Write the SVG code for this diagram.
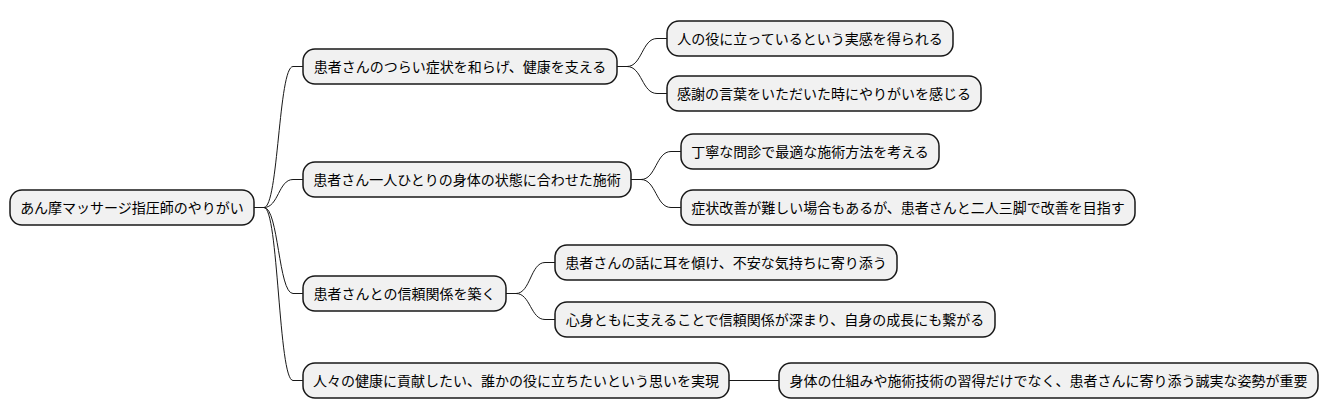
<svg xmlns="http://www.w3.org/2000/svg" width="1328" height="415" viewBox="0 0 1328 415">
<style>
.n{fill:#F1F1F1;stroke:#181818;stroke-width:1.5}
.t{font-family:"Noto Sans CJK JP","Noto Sans CJK SC",sans-serif;font-size:14px;fill:#000;text-anchor:middle}
.c{fill:none;stroke:#181818;stroke-width:1}
</style>
<rect width="1328" height="415" fill="#FFFFFF"/>
<g id="connectors">
<path class="c" d="M254,207.5 L264,207.5 C278.5,207.5 278.5,66.5 293,66.5 L303,66.5"/>
<path class="c" d="M254,207.5 L264,207.5 C278.5,207.5 278.5,179.5 293,179.5 L303,179.5"/>
<path class="c" d="M254,207.5 L264,207.5 C278.5,207.5 278.5,293.5 293,293.5 L303,293.5"/>
<path class="c" d="M254,207.5 L264,207.5 C278.5,207.5 278.5,380.5 293,380.5 L303,380.5"/>
<path class="c" d="M617,66.5 L627,66.5 C642,66.5 642,38.5 657,38.5 L667,38.5"/>
<path class="c" d="M617,66.5 L627,66.5 C642,66.5 642,93.5 657,93.5 L667,93.5"/>
<path class="c" d="M631,179.5 L641,179.5 C656,179.5 656,151.5 671,151.5 L681,151.5"/>
<path class="c" d="M631,179.5 L641,179.5 C656,179.5 656,207.5 671,207.5 L681,207.5"/>
<path class="c" d="M506,293.5 L516,293.5 C530.5,293.5 530.5,262.5 545,262.5 L555,262.5"/>
<path class="c" d="M506,293.5 L516,293.5 C530.5,293.5 530.5,319.5 545,319.5 L555,319.5"/>
<path class="c" d="M729,380.5 L779,380.5"/>
</g>
<g id="root"><rect class="n" x="10" y="190" width="244" height="35" rx="12"/><text class="t" x="132" y="212.5">あん摩マッサージ指圧師のやりがい</text></g>
<g id="n1"><rect class="n" x="303" y="49" width="314" height="35" rx="12"/><text class="t" x="460" y="71.5">患者さんのつらい症状を和らげ、健康を支える</text></g>
<g id="n1a"><rect class="n" x="667" y="21" width="286" height="35" rx="12"/><text class="t" x="810" y="43.5">人の役に立っているという実感を得られる</text></g>
<g id="n1b"><rect class="n" x="667" y="76" width="314" height="35" rx="12"/><text class="t" x="824" y="98.5">感謝の言葉をいただいた時にやりがいを感じる</text></g>
<g id="n2"><rect class="n" x="303" y="162" width="328" height="35" rx="12"/><text class="t" x="467" y="184.5">患者さん一人ひとりの身体の状態に合わせた施術</text></g>
<g id="n2a"><rect class="n" x="681" y="134" width="258" height="35" rx="12"/><text class="t" x="810" y="156.5">丁寧な問診で最適な施術方法を考える</text></g>
<g id="n2b"><rect class="n" x="681" y="190" width="454" height="35" rx="12"/><text class="t" x="908" y="212.5">症状改善が難しい場合もあるが、患者さんと二人三脚で改善を目指す</text></g>
<g id="n3"><rect class="n" x="303" y="276" width="203" height="35" rx="12"/><text class="t" x="404.5" y="298.5">患者さんとの信頼関係を築く</text></g>
<g id="n3a"><rect class="n" x="555" y="245" width="342" height="35" rx="12"/><text class="t" x="726" y="267.5">患者さんの話に耳を傾け、不安な気持ちに寄り添う</text></g>
<g id="n3b"><rect class="n" x="555" y="302" width="440" height="35" rx="12"/><text class="t" x="775" y="324.5">心身ともに支えることで信頼関係が深まり、自身の成長にも繋がる</text></g>
<g id="n4"><rect class="n" x="303" y="363" width="426" height="35" rx="12"/><text class="t" x="516" y="385.5">人々の健康に貢献したい、誰かの役に立ちたいという思いを実現</text></g>
<g id="n4a"><rect class="n" x="779" y="363" width="539" height="35" rx="12"/><text class="t" x="1048.5" y="385.5">身体の仕組みや施術技術の習得だけでなく、患者さんに寄り添う誠実な姿勢が重要</text></g>
</svg>
